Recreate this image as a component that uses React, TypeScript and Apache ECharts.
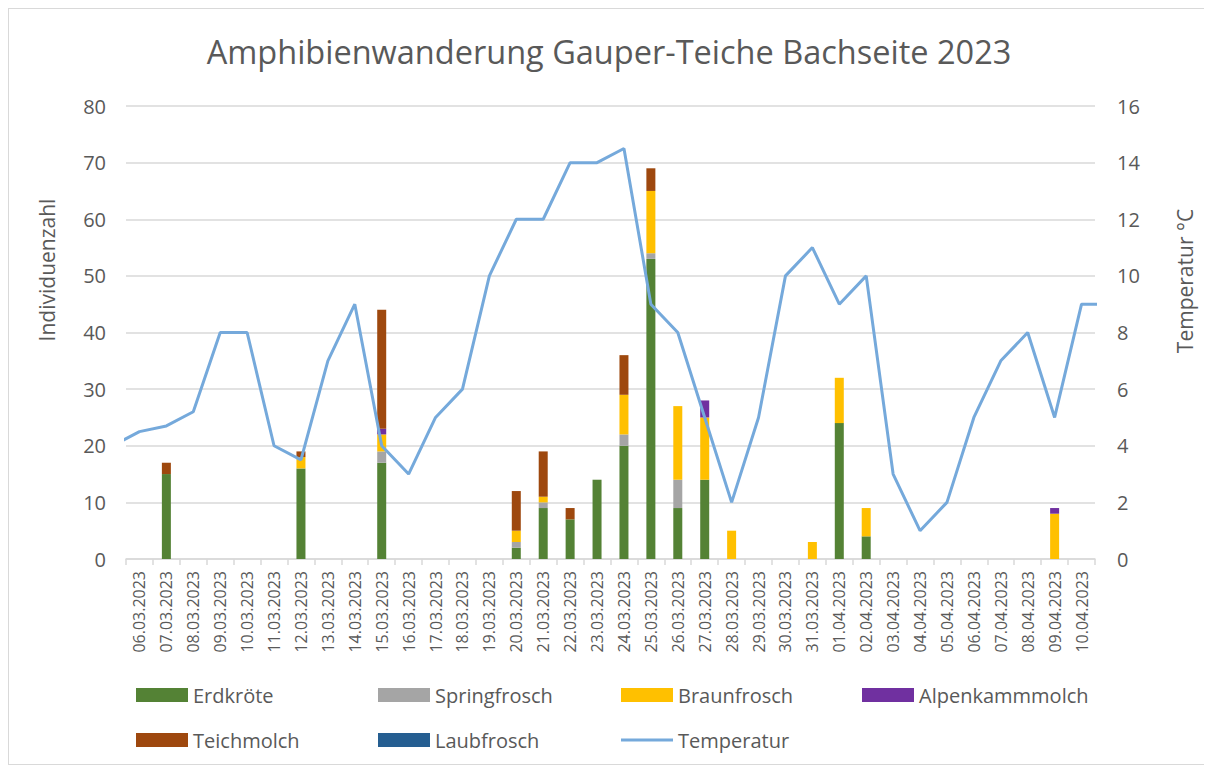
import React, { useEffect, useRef } from "react";
import * as echarts from "echarts";

const dates = [
  "06.03.2023", "07.03.2023", "08.03.2023", "09.03.2023", "10.03.2023", "11.03.2023",
  "12.03.2023", "13.03.2023", "14.03.2023", "15.03.2023", "16.03.2023", "17.03.2023",
  "18.03.2023", "19.03.2023", "20.03.2023", "21.03.2023", "22.03.2023", "23.03.2023",
  "24.03.2023", "25.03.2023", "26.03.2023", "27.03.2023", "28.03.2023", "29.03.2023",
  "30.03.2023", "31.03.2023", "01.04.2023", "02.04.2023", "03.04.2023", "04.04.2023",
  "05.04.2023", "06.04.2023", "07.04.2023", "08.04.2023", "09.04.2023", "10.04.2023",
];

const erdkroete = [0, 15, 0, 0, 0, 0, 16, 0, 0, 17, 0, 0, 0, 0, 2, 9, 7, 14, 20, 53, 9, 14, 0, 0, 0, 0, 24, 4, 0, 0, 0, 0, 0, 0, 0, 0];
const springfrosch = [0, 0, 0, 0, 0, 0, 0, 0, 0, 2, 0, 0, 0, 0, 1, 1, 0, 0, 2, 1, 5, 0, 0, 0, 0, 0, 0, 0, 0, 0, 0, 0, 0, 0, 0, 0];
const braunfrosch = [0, 0, 0, 0, 0, 0, 2, 0, 0, 3, 0, 0, 0, 0, 2, 1, 0, 0, 7, 11, 13, 11, 5, 0, 0, 3, 8, 5, 0, 0, 0, 0, 0, 0, 8, 0];
const alpenkammmolch = [0, 0, 0, 0, 0, 0, 0, 0, 0, 1, 0, 0, 0, 0, 0, 0, 0, 0, 0, 0, 0, 3, 0, 0, 0, 0, 0, 0, 0, 0, 0, 0, 0, 0, 1, 0];
const teichmolch = [0, 2, 0, 0, 0, 0, 1, 0, 0, 21, 0, 0, 0, 0, 7, 8, 2, 0, 7, 4, 0, 0, 0, 0, 0, 0, 0, 0, 0, 0, 0, 0, 0, 0, 0, 0];
const laubfrosch = [0, 0, 0, 0, 0, 0, 0, 0, 0, 0, 0, 0, 0, 0, 0, 0, 0, 0, 0, 0, 0, 0, 0, 0, 0, 0, 0, 0, 0, 0, 0, 0, 0, 0, 0, 0];

// Temperature from 05.03.2023 (just before the axis) to 11.04.2023 (just after): the line runs off both edges.
const temperaturDates = ["05.03.2023", ...dates, "11.04.2023"];
const temperatur = [4.0, 4.5, 4.7, 5.2, 8, 8, 4, 3.5, 7, 9, 4, 3, 5, 6, 10, 12, 12, 14, 14, 14.5, 9, 8, 5, 2, 5, 10, 11, 9, 10, 3, 1, 2, 5, 7, 8, 5, 9, 9];

const leftTicks = [0, 80, 10];
const rightTicks = [0, 16, 2];

const FONT = "'Open Sans', sans-serif";
const TXT = "#595959";
const GRID = "#d9d9d9";
const LINE = "#75A9DB";

const speciesSeries = [
  { name: "Erdkröte", data: erdkroete, color: "#548235" },
  { name: "Springfrosch", data: springfrosch, color: "#A5A5A5" },
  { name: "Braunfrosch", data: braunfrosch, color: "#FFC000" },
  { name: "Alpenkammmolch", data: alpenkammmolch, color: "#7030A0" },
  { name: "Teichmolch", data: teichmolch, color: "#9E480E" },
  { name: "Laubfrosch", data: laubfrosch, color: "#255E91" },
];

const legendOrder = ["Erdkröte", "Springfrosch", "Braunfrosch", "Alpenkammmolch", "Teichmolch", "Laubfrosch", "Temperatur"];

export default function App() {
  const ref = useRef<HTMLDivElement>(null);
  useEffect(() => {
    if (!ref.current) return;
    const chart = echarts.init(ref.current, null, { renderer: "svg" });
    const colX = [127, 369, 612, 853];
    const rowY = [676, 721];
    const legends = legendOrder.map((name, i) => {
      const isLine = name === "Temperatur";
      const lg: any = {
        data: [{ name, icon: "rect" }],
        left: colX[i % 4],
        top: rowY[Math.floor(i / 4)],
        itemWidth: 52,
        itemHeight: isLine ? 3 : 14,
        itemGap: 0,
        padding: 0,
        selectedMode: false,
        textStyle: { color: TXT, fontSize: 20, fontFamily: FONT },
      };
      return lg;
    });

    const option: any = {
      animation: false,
      backgroundColor: "#fff",
      textStyle: { fontFamily: FONT },
      title: {
        text: "Amphibienwanderung Gauper-Teiche Bachseite 2023",
        left: "center",
        top: 21,
        textStyle: { color: TXT, fontSize: 32.5, fontWeight: "normal", fontFamily: FONT },
      },
      legend: legends,
      grid: { left: 117, right: 114, top: 97, bottom: 205, containLabel: false },
      xAxis: [
        {
          type: "category",
          data: dates,
          boundaryGap: true,
          axisLine: { lineStyle: { color: GRID, width: 1.5 } },
          axisTick: { show: true, length: 6, lineStyle: { color: GRID, width: 1.5 }, interval: 0 },
          axisLabel: { interval: 0, rotate: 90, color: TXT, fontSize: 16, fontFamily: FONT, margin: 12 },
        },
        {
          type: "value",
          min: 0,
          max: dates.length,
          show: false,
        },
      ],
      yAxis: [
        {
          type: "value",
          min: leftTicks[0],
          max: leftTicks[1],
          interval: leftTicks[2],
          axisLine: { show: false },
          axisTick: { show: false },
          splitLine: { lineStyle: { color: GRID, width: 1.5 } },
          axisLabel: { color: TXT, fontSize: 20, fontFamily: FONT, margin: 20 },
        },
        {
          type: "value",
          min: rightTicks[0],
          max: rightTicks[1],
          interval: rightTicks[2],
          axisLine: { show: false },
          axisTick: { show: false },
          splitLine: { show: false },
          axisLabel: { color: TXT, fontSize: 20, fontFamily: FONT, margin: 22 },
        },
      ],
      graphic: [
        {
          type: "text",
          x: 38,
          y: 261,
          rotation: Math.PI / 2,
          style: { text: "Individuenzahl", fill: TXT, font: `21px ${FONT}`, align: "center", verticalAlign: "middle" },
        },
        {
          type: "text",
          x: 1176,
          y: 272,
          rotation: Math.PI / 2,
          style: { text: "Temperatur °C", fill: TXT, font: `21px ${FONT}`, align: "center", verticalAlign: "middle" },
        },
      ],
      series: [
        ...speciesSeries.map((s) => ({
          name: s.name,
          type: "bar",
          stack: "total",
          xAxisIndex: 0,
          yAxisIndex: 0,
          barWidth: 9,
          itemStyle: { color: s.color },
          data: s.data.map((v) => (v === 0 ? null : v)),
        })),
        {
          name: "Temperatur",
          type: "line",
          xAxisIndex: 1,
          yAxisIndex: 1,
          symbol: "none",
          clip: true,
          itemStyle: { color: LINE },
          lineStyle: { color: LINE, width: 3 },
          data: temperatur.map((v, i) => [i - 0.5, v]),
        },
      ],
    };
    void temperaturDates;
    chart.setOption(option);
    return () => chart.dispose();
  }, []);

  return (
    <div
      ref={ref}
      style={{ width: 1202, height: 757, border: "1px solid #d9d9d9", boxSizing: "border-box" }}
    />
  );
}
